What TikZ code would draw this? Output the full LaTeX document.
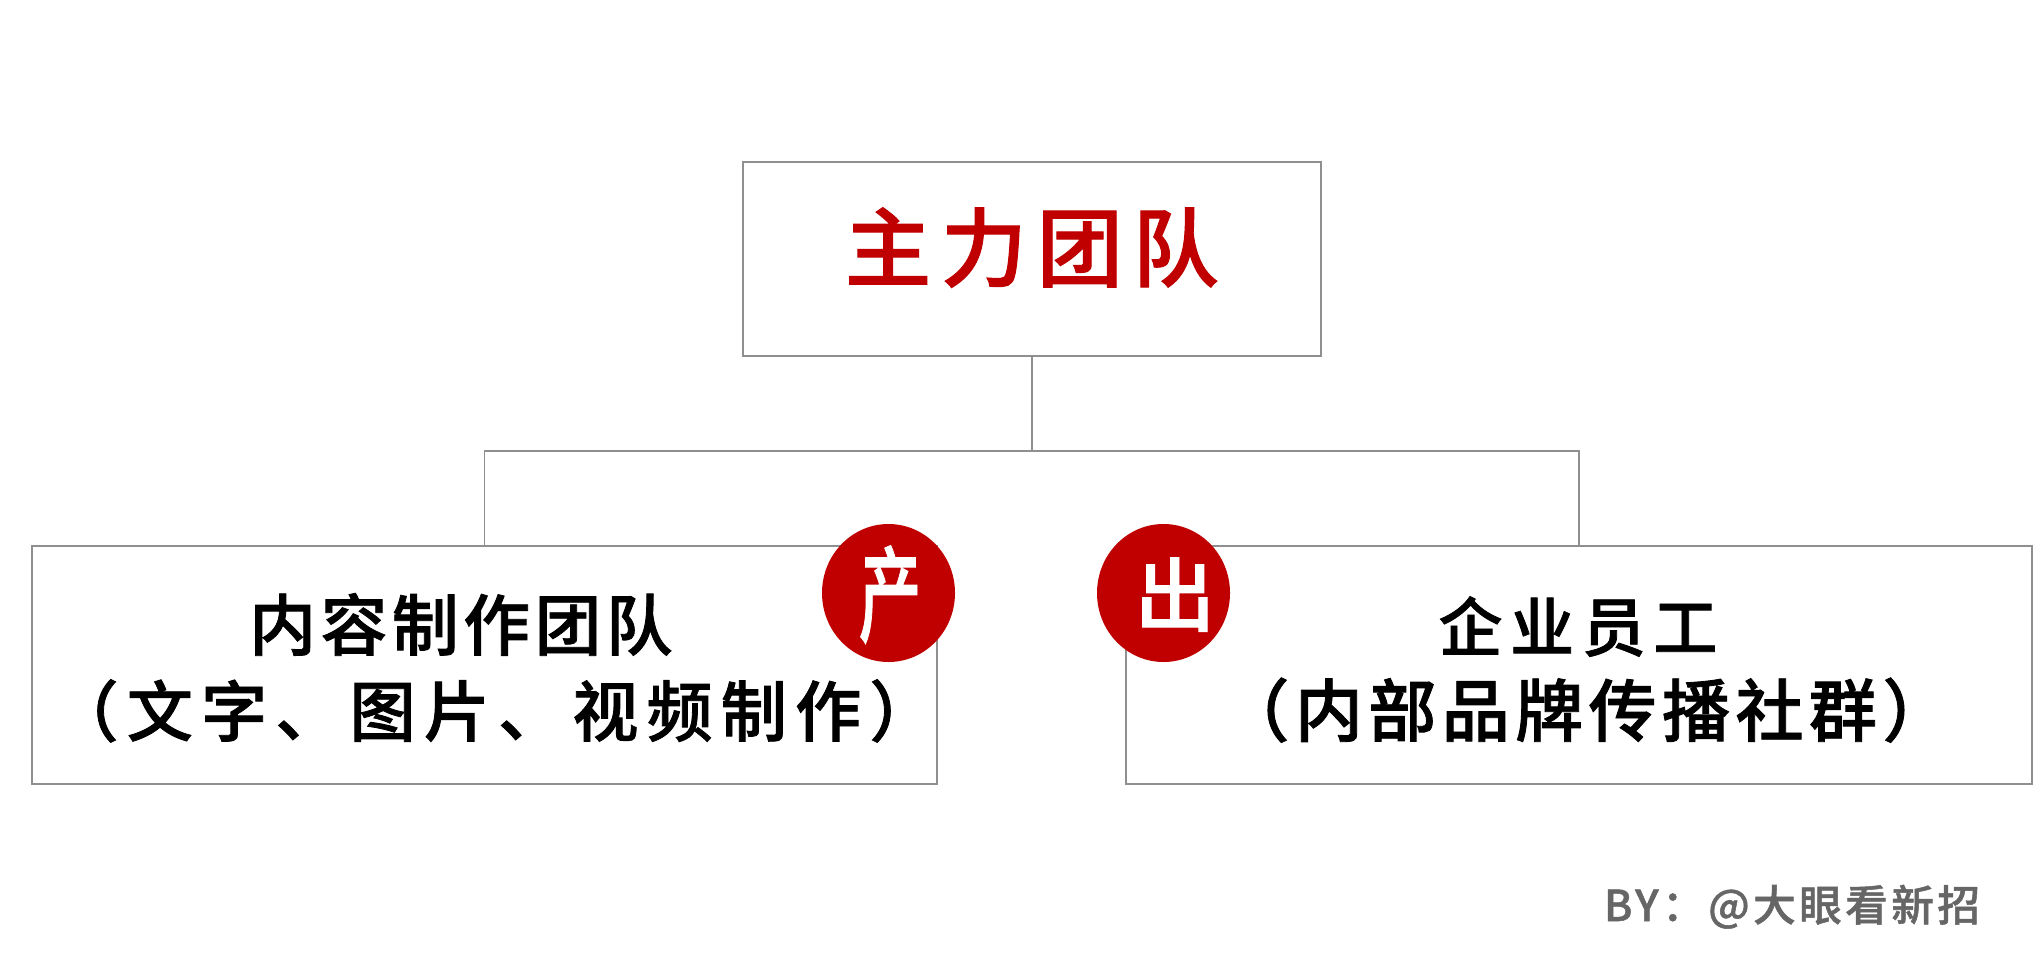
\documentclass[tikz,border=0pt]{standalone}
\usepackage{fontspec}
\setmainfont{Noto Sans CJK SC Medium}
\usetikzlibrary{shapes.geometric}
\definecolor{boxline}{HTML}{8F8F8F}
\definecolor{accent}{HTML}{C00000}
\definecolor{credit}{HTML}{666666}
\newcommand{\pxfont}[2]{\fontsize{#1}{#1}\selectfont\addfontfeature{LetterSpace=#2,FakeBold=1.2}}
\tikzset{
  boxnode/.style={draw=boxline,line width=1.35pt,fill=white,rectangle,inner sep=0pt},
  link/.style={draw=boxline,line width=1.35pt},
  lbl/.style={inner sep=0pt,anchor=base},
  badge/.style={ellipse,fill=accent,inner sep=0pt,minimum width=99.75pt,minimum height=103.5pt},
}
\begin{document}
\begin{tikzpicture}[x=0.75pt,y=-0.75pt]
\useasboundingbox (0,0) rectangle (2033,968);
\fill[white] (0,0) rectangle (2033,968);
\node[boxnode,minimum width=433.5pt,minimum height=145.5pt] (main) at (1032,259) {};
\node[boxnode,minimum width=678.75pt,minimum height=178.5pt] (left) at (484.5,665) {};
\node[boxnode,minimum width=679.5pt,minimum height=178.5pt] (right) at (1579,665) {};
\coordinate (bar) at (1032,451);
\draw[link] (main.south) -- (bar);
\draw[link] (left.north) |- (bar) -| (right.north);
\node[lbl,text=accent,font=\pxfont{64.5pt}{11.6}] (t0) at (1032,280) {主力团队};
\node[lbl,font=\pxfont{50pt}{7}] (t1) at (461,650) {内容制作团队};
\node[lbl,font=\pxfont{49.5pt}{12.5}] (t2) at (494,736) {（文字、图片、视频制作）};
\node[lbl,font=\pxfont{48pt}{12}] (t3) at (1578,651) {企业员工};
\node[lbl,font=\pxfont{51pt}{8}] (t4) at (1586,736) {（内部品牌传播社群）};
\node[lbl,text=credit,font=\pxfont{32pt}{8}] (t5) at (1792,921) {BY：@大眼看新招};
\node[badge] (b1) at (888.5,593) {};
\node[badge] (b2) at (1163.5,593) {};
\node[lbl,text=white,font=\pxfont{54pt}{0}] (c1) at (890,634) {\scalebox{0.87}[1.45]{产}};
\node[lbl,text=white,font=\pxfont{60pt}{0}] (c2) at (1175,625) {出};
\end{tikzpicture}
\end{document}
